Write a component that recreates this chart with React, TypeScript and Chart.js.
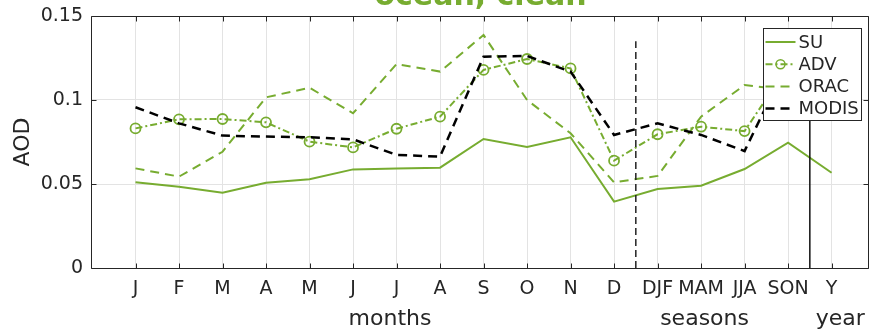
import React, { useEffect, useRef } from "react";
import { Chart, registerables } from "chart.js";

Chart.register(...registerables);

// ---- data ----
const categories = ["J", "F", "M", "A", "M", "J", "J", "A", "S", "O", "N", "D", "DJF", "MAM", "JJA", "SON", "Y"];
const suValues = [0.051, 0.0484, 0.0448, 0.0508, 0.0528, 0.0587, 0.0593, 0.0597, 0.0768, 0.072, 0.0778, 0.0395, 0.047, 0.049, 0.0589, 0.0746, 0.0567];
const advValues = [0.0831, 0.0885, 0.0887, 0.0867, 0.0752, 0.0718, 0.0829, 0.0901, 0.1179, 0.1244, 0.1188, 0.0639, 0.0796, 0.0841, 0.0815, 0.12, 0.093];
const oracValues = [0.0593, 0.0544, 0.0692, 0.1016, 0.1073, 0.0921, 0.1214, 0.1169, 0.1387, 0.1, 0.0802, 0.051, 0.0548, 0.0901, 0.1089, 0.106, 0.092];
const modisValues = [0.0957, 0.0861, 0.0788, 0.0782, 0.0778, 0.0766, 0.0673, 0.0663, 0.1258, 0.1262, 0.1169, 0.0792, 0.0861, 0.0792, 0.0696, 0.123, 0.092];
const yTickValues = [0, 0.05, 0.1, 0.15];
const yTickLabels = ["0", "0.05", "0.1", "0.15"];
const seasonDivider = [{ x: 12.5, y: 0 }, { x: 12.5, y: 0.135 }];
const yearDivider = [{ x: 16.5, y: 0 }, { x: 16.5, y: 0.13 }];
const groupLabels = ["months", "seasons", "year"];
const groupLabelAt = [6.85, 14.08, 17.2];
const titleText = "ocean, clean";
const yAxisLabel = "AOD";
const seriesNames = ["SU", "ADV", "ORAC", "MODIS"];

const GREEN = "#77AC30";
const TEXT = "#262626";
const FONT = "'DejaVu Sans', sans-serif";

const toPts = (arr: number[]) => arr.map((v, i) => ({ x: i + 1, y: v }));

const legendStyles = [
  { color: GREEN, dash: [] as number[], width: 2, marker: false },
  { color: GREEN, dash: [7, 3, 2, 3], width: 2, marker: true },
  { color: GREEN, dash: [9, 6], width: 2, marker: false },
  { color: "#000000", dash: [9, 6], width: 2.5, marker: false },
];

const decor = {
  id: "decor",
  beforeDatasetsDraw(chart: any) {
    const { ctx, chartArea: a, scales } = chart;
    const x = scales.x;
    const y = scales.y;
    ctx.save();
    ctx.strokeStyle = TEXT;
    ctx.lineWidth = 1;
    ctx.setLineDash([]);
    const L = Math.round(a.left) - 0.5;
    const R = Math.round(a.right) - 0.5;
    const T = Math.round(a.top) + 0.5;
    const B = Math.round(a.bottom) + 0.5;
    ctx.beginPath();
    ctx.moveTo(L, T);
    ctx.lineTo(R, T);
    ctx.lineTo(R, B);
    ctx.lineTo(L, B);
    ctx.closePath();
    ctx.stroke();
    ctx.beginPath();
    categories.forEach((_, i) => {
      const px = Math.round(x.getPixelForValue(i + 1)) + 0.5;
      ctx.moveTo(px, B);
      ctx.lineTo(px, B - 5);
      ctx.moveTo(px, T);
      ctx.lineTo(px, T + 5);
    });
    yTickValues.forEach((v) => {
      const py = Math.round(y.getPixelForValue(v)) + 0.5;
      ctx.moveTo(L, py);
      ctx.lineTo(L + 5, py);
      ctx.moveTo(R, py);
      ctx.lineTo(R - 5, py);
    });
    ctx.stroke();
    ctx.restore();
  },
  afterDraw(chart: any) {
    const { ctx, chartArea: a, scales } = chart;
    const x = scales.x;
    ctx.save();
    // title
    ctx.font = `bold 30px ${FONT}`;
    ctx.fillStyle = GREEN;
    ctx.textAlign = "center";
    ctx.textBaseline = "alphabetic";
    ctx.fillText(titleText, (a.left + a.right) / 2, 5);
    // group labels
    ctx.font = `22px ${FONT}`;
    ctx.fillStyle = TEXT;
    groupLabels.forEach((t, i) => {
      ctx.fillText(t, x.getPixelForValue(groupLabelAt[i]), 325);
    });
    // y label
    ctx.save();
    ctx.translate(29, (a.top + a.bottom) / 2);
    ctx.rotate(-Math.PI / 2);
    ctx.textAlign = "center";
    ctx.textBaseline = "alphabetic";
    ctx.fillText(yAxisLabel, 0, 0);
    ctx.restore();
    // legend
    const lw = 98;
    const lh = 92;
    const lx = Math.round(a.right) - 105.5;
    const ly = Math.round(a.top) + 12.5;
    ctx.fillStyle = "#ffffff";
    ctx.fillRect(lx, ly, lw, lh);
    ctx.strokeStyle = TEXT;
    ctx.lineWidth = 1;
    ctx.setLineDash([]);
    ctx.strokeRect(lx, ly, lw, lh);
    seriesNames.forEach((name, k) => {
      const s = legendStyles[k];
      const ry = ly + 13.5 + k * 22.2;
      ctx.strokeStyle = s.color;
      ctx.lineWidth = s.width;
      ctx.setLineDash(s.dash);
      ctx.beginPath();
      ctx.moveTo(lx + 2, ry);
      ctx.lineTo(lx + 32, ry);
      ctx.stroke();
      if (s.marker) {
        ctx.setLineDash([]);
        ctx.lineWidth = 1.5;
        ctx.beginPath();
        ctx.arc(lx + 17, ry, 4.5, 0, Math.PI * 2);
        ctx.stroke();
      }
      ctx.setLineDash([]);
      ctx.fillStyle = TEXT;
      ctx.font = `18px ${FONT}`;
      ctx.textAlign = "left";
      ctx.textBaseline = "middle";
      ctx.fillText(name, lx + 35, ry + 1);
    });
    ctx.restore();
  },
};

export default function App() {
  const ref = useRef<HTMLCanvasElement | null>(null);
  useEffect(() => {
    document.body.style.margin = "0";
    if (!ref.current) return;
    const chart = new Chart(ref.current, {
      type: "line",
      data: {
        datasets: [
          { label: "season divider", data: seasonDivider, borderColor: "#222222", borderWidth: 1.5, borderDash: [7, 4], pointRadius: 0, order: 0 },
          { label: "year divider", data: yearDivider, borderColor: "#111111", borderWidth: 1.5, pointRadius: 0, order: 0 },
          { label: seriesNames[0], data: toPts(suValues), borderColor: GREEN, borderWidth: 2, pointRadius: 0, order: 4 },
          {
            label: seriesNames[1], data: toPts(advValues), borderColor: GREEN, borderWidth: 2, borderDash: [7, 3, 2, 3],
            pointRadius: 5, pointBorderColor: GREEN, pointBackgroundColor: "rgba(0,0,0,0)", pointBorderWidth: 1.8, order: 3,
          },
          { label: seriesNames[2], data: toPts(oracValues), borderColor: GREEN, borderWidth: 2, borderDash: [9, 6], pointRadius: 0, order: 2 },
          { label: seriesNames[3], data: toPts(modisValues), borderColor: "#000000", borderWidth: 2.5, borderDash: [9, 6], pointRadius: 0, order: 1 },
        ],
      },
      options: {
        responsive: false,
        animation: false,
        devicePixelRatio: 1,
        layout: { autoPadding: false, padding: { top: 16, right: 1, left: 0, bottom: 0 } },
        plugins: { legend: { display: false }, title: { display: false }, tooltip: { enabled: false } },
        elements: { line: { tension: 0 } },
        scales: {
          x: {
            type: "linear",
            min: 0,
            max: 17.86,
            afterBuildTicks: (s: any) => { s.ticks = categories.map((_, i) => ({ value: i + 1 })); },
            afterFit: (s: any) => { s.height = 62; s.paddingLeft = 0; s.paddingRight = 0; },
            ticks: {
              autoSkip: false, maxRotation: 0, padding: 10, color: TEXT,
              font: { family: FONT, size: 19 },
              callback: (v: any) => categories[Math.round(v) - 1] ?? "",
            },
            grid: { color: "#e3e3e3", drawTicks: false },
            border: { display: false },
          },
          y: {
            min: 0,
            max: 0.15,
            afterBuildTicks: (s: any) => { s.ticks = yTickValues.map((v) => ({ value: v })); },
            afterFit: (s: any) => { s.width = 92; s.paddingTop = 0; s.paddingBottom = 0; },
            ticks: {
              padding: 9, color: TEXT,
              font: { family: FONT, size: 19 },
              callback: (_v: any, i: number) => yTickLabels[i],
            },
            grid: { color: "#e3e3e3", drawTicks: false },
            border: { display: false },
          },
        },
      },
      plugins: [decor],
    });
    return () => chart.destroy();
  }, []);
  return <canvas ref={ref} width={870} height={330} style={{ display: "block" }} />;
}
